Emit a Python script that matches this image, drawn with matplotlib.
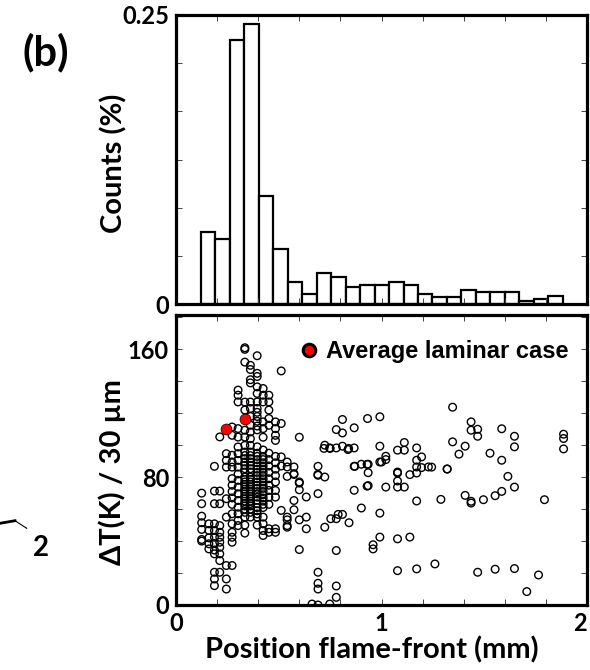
import numpy as np
import matplotlib
matplotlib.use("Agg")
import matplotlib.pyplot as plt
from matplotlib.ticker import MultipleLocator
from matplotlib.lines import Line2D

plt.rcParams['font.family'] = ['Lato', 'DejaVu Sans']
plt.rcParams['font.weight'] = 'bold'

# histogram of flame-front position (bin edges in mm, counts as fraction)
bin_edges = [0.122, 0.192, 0.263, 0.333, 0.404, 0.474, 0.544, 0.615, 0.685,
             0.756, 0.826, 0.896, 0.967, 1.037, 1.108, 1.178, 1.248, 1.319,
             1.389, 1.460, 1.530, 1.600, 1.671, 1.741, 1.812, 1.882]
counts = [0.0622, 0.0562, 0.2280, 0.2425, 0.0933, 0.0478, 0.0190, 0.0086,
          0.0268, 0.0230, 0.0147, 0.0164, 0.0164, 0.0187, 0.0167, 0.0086,
          0.0058, 0.0058, 0.0124, 0.0104, 0.0104, 0.0104, 0.0023, 0.0043,
          0.0066]

# scatter: position (mm) vs dT / 30 um, grouped by column
pos_mm = (
    [0.125] * 7 + [0.160] * 5 + [0.187] * 12 + [0.213] * 11 + [0.245] * 8
    + [0.273] * 16 + [0.302] * 18 + [0.335] * 23 + [0.362] * 24
    + [0.395] * 25 + [0.424] * 20 + [0.452] * 16 + [0.484] * 13
    + [0.512] * 5 + [0.541] * 7 + [0.574] * 5 + [0.600] * 6 + [0.634] * 3
)
dT = (
    [70, 63.4, 55.6, 51.5, 47.3, 41, 40]
    + [50.8, 46.7, 42, 38.3, 35.1]
    + [86.8, 71.3, 63.4, 50.8, 46.6, 42.4, 38.5, 34.4, 32, 20.5, 16.3, 12.1]
    + [105.2, 71.3, 63.4, 49.7, 45.5, 42.4, 39.3, 36.1, 32, 27.8, 20.5]
    + [94.7, 90.5, 86.3, 66.5, 55, 24.7, 16.3, 10]
    + [111.4, 106.2, 93.7, 89.5, 86.3, 79.1, 75, 71, 67, 63, 57.1, 50.8,
       45.5, 42.4, 39.3, 24.7]
    + [134.5, 131.3, 127.1, 110.4, 105.1, 98.9, 94.7, 90.5, 86.3, 82, 78,
       73.8, 69.6, 65.4, 61.2, 57.1, 52.9, 49.7]
    + [161, 160, 152, 127, 122, 109.4, 105.1, 99.9, 95.7, 91.6, 87.4, 83.2,
       80, 77, 74, 71, 68, 65, 62, 58, 55, 50, 45]
    + [150, 147.4, 141, 139, 127, 123, 118, 112.5, 108.3, 104.1, 99.9, 95.7,
       91.6, 87.4, 83.2, 80, 77, 74, 71, 68, 65, 62, 58, 55]
    + [156, 145, 143, 136.5, 132.4, 127.1, 123, 120.6, 118, 115, 112, 109.6,
       99, 95, 91, 87, 83, 79, 75, 71, 67.5, 63.4, 59, 55, 50]
    + [135.5, 131.3, 127.1, 114.6, 110.4, 105, 97, 93, 89, 85, 81, 77, 73,
       69, 65, 61, 55, 50.8, 46.6, 43.5]
    + [131.3, 127.1, 122, 116.7, 112.5, 95, 91, 87, 83, 79, 75, 71.7, 67.5,
       63, 47.7, 45.5]
    + [114.6, 110.4, 106.2, 103, 93, 89, 85, 81, 77, 71.7, 67.5, 47.7, 45.5]
    + [146.5, 113.6, 92.7, 87, 59.2]
    + [89.5, 86.4, 80.5, 55, 53.3, 49.7, 48.7]
    + [86.4, 82.2, 81.7, 65.4, 59.6]
    + [105, 77, 76.3, 72.1, 53.3, 34.7]
    + [67.6, 55, 47.7]
)

# extra overlapping points in the densest block
pos_block = [0.335] * 10 + [0.362] * 10 + [0.395] * 10 + [0.424] * 8
dT_block = (
    [93.5, 89.5, 85.3, 78.5, 75.5, 72.5, 69.5, 66.5, 63.5, 60]
    + [93.5, 89.5, 85.3, 78.5, 75.5, 72.5, 69.5, 66.5, 63.5, 60]
    + [93, 89, 85, 81, 77, 73, 69.5, 65.5, 61, 57]
    + [91, 87, 83, 79, 75, 71, 67, 63]
)

# sparse part of the cloud (x > 0.65 mm)
pos_sparse = [0.691, 0.691, 0.724, 0.691, 0.724, 0.691, 0.691, 0.691, 0.662,
              0.691, 0.748, 0.780, 0.780, 0.780, 0.724, 0.748, 0.780, 0.810,
              0.810, 0.780, 0.810, 0.867, 0.932, 0.992, 0.837, 0.867, 0.867,
              0.902, 0.935, 0.935, 0.992, 0.992, 1.021, 1.021, 1.078, 1.111,
              1.111, 1.171, 1.078, 1.078, 1.078, 1.111, 1.138, 1.171, 1.171,
              1.171, 1.195, 1.195, 1.228, 0.867, 0.902, 0.935, 1.021, 0.992,
              0.992, 0.959, 0.959, 1.078, 1.138, 1.078, 1.171, 1.260, 1.171,
              1.289, 1.319, 1.346, 1.346, 1.407, 1.377, 1.407, 1.436, 1.436,
              1.436, 1.436, 1.468, 1.468, 1.528, 1.496, 1.553, 1.585, 1.585,
              1.585, 1.615, 1.647, 1.647, 1.647, 1.793, 1.886, 1.886, 1.886,
              1.468, 1.553, 1.647, 1.764, 1.707, 0.789, 0.810, 0.842, 0.753,
              0.780, 0.720, 0.690, 1.078, 0.930, 1.244, 1.320, 0.750, 0.840,
              0.870, 0.930, 1.000]
dT_sparse = [86.8, 81.2, 80.1, 69.7, 48.7, 20.5, 13.6, 10.0, 0.6,
             0.0, 0.6, 4.8, 11.9, 34.1, 100.0, 98.3, 98.3, 99.4,
             116.1, 109.8, 107.7, 110.9, 116.7, 117.8, 97.3, 98.3, 86.8,
             88.1, 88.1, 82.8, 99.4, 89.5, 93.1, 91.0, 96.9, 101.7,
             96.9, 98.3, 82.6, 77.6, 73.8, 73.8, 81.6, 90.6, 86.4,
             82.6, 92.7, 86.0, 86.4, 71.8, 60.7, 74.7, 73.8, 57.5,
             42.5, 37.7, 35.1, 41.4, 42.5, 21.5, 22.6, 25.7, 65.1,
             66.1, 85.1, 123.8, 102.1, 99.4, 94.4, 68.6, 64.9, 63.8,
             114.6, 109.4, 110.0, 105.6, 95.0, 65.9, 68.4, 110.3, 90.6,
             71.1, 80.5, 105.6, 99.0, 73.8, 65.9, 106.9, 104.2, 97.7,
             20.5, 22.4, 22.8, 18.8, 8.4, 56.7, 56.7, 51.5, 54.0,
             54.0, 98.0, 81.7, 83.2, 88.0, 86.3, 85.1, 98.0, 98.0,
             86.8, 74.4, 89.5]

# average laminar case
pos_lam = [0.245, 0.335]
dT_lam = [110.4, 116.7]

fig = plt.figure(figsize=(5.9, 6.7), dpi=100)
W, H = 590, 670
ax1 = fig.add_axes([176 / W, 1 - 304 / H, 411 / W, 289 / H])
ax2 = fig.add_axes([176 / W, 1 - 605 / H, 411 / W, 290 / H])

# Histogram
ax1.bar(bin_edges[:-1], counts, width=np.diff(bin_edges), align='edge',
        color='white', edgecolor='black', linewidth=1.6)
ax1.set_xlim(0, 2)
ax1.set_ylim(0, 0.25)
ax1.set_yticks([0, 0.25], ['0', '0.25'])
ax1.yaxis.set_minor_locator(MultipleLocator(0.25 / 6))
ax1.xaxis.set_major_locator(MultipleLocator(1))
ax1.xaxis.set_minor_locator(MultipleLocator(0.2))
ax1.set_xticklabels([])

# Scatter
ax2.scatter(pos_mm + pos_block + pos_sparse, dT + dT_block + dT_sparse,
            s=30, facecolors='none', edgecolors='black', linewidths=1.0,
            zorder=2)
ax2.scatter(pos_lam, dT_lam, s=62, color='red', edgecolors='black',
            linewidths=0.5, zorder=3)
ax2.set_xlim(0, 2)
ax2.set_ylim(0, 181.5)
ax2.set_yticks([0, 80, 160], ['0', '80', '160'])
ax2.yaxis.set_minor_locator(MultipleLocator(20))
ax2.set_xticks([0, 1, 2], ['0', '1', '2'])
ax2.xaxis.set_minor_locator(MultipleLocator(0.2))
ax2.get_xticklabels()[-1].set_horizontalalignment('right')

handle = Line2D([], [], marker='o', linestyle='none', markersize=9,
                markerfacecolor='red', markeredgecolor='black',
                markeredgewidth=2.2)
ax2.legend([handle], ['Average laminar case'], loc='upper right',
           bbox_to_anchor=(0.967, 0.93), frameon=False, handletextpad=0.25,
           handlelength=1.0, borderpad=0.2, borderaxespad=0,
           prop={'family': 'Liberation Sans', 'weight': 'bold', 'size': 17})

for ax in (ax1, ax2):
    for sp in ax.spines.values():
        sp.set_linewidth(2.3)
    ax.tick_params(which='both', direction='in', top=True, right=True,
                   length=4, width=0.7, color='#444444', labelsize=17, pad=5)
    ax.tick_params(which='minor', length=4)

fig.text(114 / W, 1 - 163 / H, 'Counts (%)', rotation=90, ha='center',
         va='center', fontsize=21)
fig.text(112 / W, 1 - 472 / H, 'ΔT(K) / 30 µm', rotation=90, ha='center',
         va='center', fontsize=21)
fig.text(372 / W, 1 - 650 / H, 'Position flame-front (mm)', ha='center',
         va='center', fontsize=21)
fig.text(46 / W, 1 - 52 / H, '(b)', ha='center', va='center', fontsize=30)

# leftovers of neighbouring panel
fig.text(41.5 / W, 1 - 548 / H, '2', ha='center', va='center', fontsize=20)
fig.add_artist(Line2D([0, 15 / W], [1 - 523.3 / H, 1 - 520.7 / H],
                      transform=fig.transFigure, color='black', lw=2))
fig.add_artist(Line2D([15 / W, 26.7 / W], [1 - 520.7 / H, 1 - 528.3 / H],
                      transform=fig.transFigure, color='black', lw=0.8))

fig.savefig('out.png', dpi=100)
